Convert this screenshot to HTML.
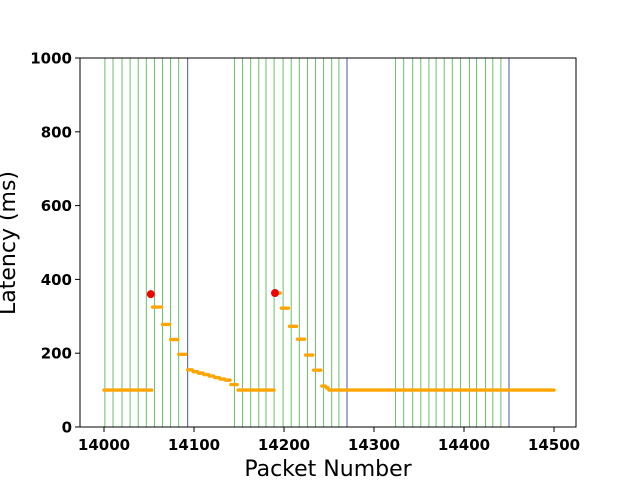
<!DOCTYPE html>
<html><head><meta charset="utf-8"><style>
body{margin:0;background:#fff;}
svg text{font-family:"DejaVu Sans","Liberation Sans",sans-serif;}
</style></head><body>
<svg id="chart" width="640" height="480" xmlns="http://www.w3.org/2000/svg">
<rect width="640" height="480" fill="#fff"/>
<g id="vlines"></g>
<g id="marks"></g>
<rect x="80" y="58" width="496" height="369" fill="none" stroke="#000" stroke-width="1"/>
<g id="axes"></g>
<text x="328" y="476" font-size="22" text-anchor="middle">Packet Number</text>
<text transform="translate(9,243) rotate(-90)" font-size="22" text-anchor="middle" dominant-baseline="middle">Latency (ms)</text>
</svg>
<script>
const xTicks = [14000, 14100, 14200, 14300, 14400, 14500];
const yTicks = [0, 200, 400, 600, 800, 1000];
const greenLines = [14001, 14010, 14020, 14029, 14038, 14047, 14056, 14065, 14074, 14083,
  14145, 14154, 14163, 14172, 14180, 14189, 14199, 14208, 14217, 14226, 14235, 14244, 14253, 14261,
  14324, 14333, 14343, 14352, 14361, 14369, 14378, 14387, 14396, 14406, 14414, 14424, 14432, 14441];
const blueLines = [14093, 14270, 14450];
const segStart = [14000, 14054, 14065, 14074, 14083, 14093, 14099, 14105, 14111, 14117, 14123, 14129, 14135, 14141, 14149, 14190, 14197, 14206, 14215, 14224, 14233, 14242, 14247, 14250];
const segEnd   = [14053, 14064, 14073, 14082, 14091, 14098, 14104, 14110, 14116, 14122, 14128, 14134, 14140, 14148, 14189, 14196, 14205, 14214, 14223, 14232, 14241, 14246, 14249, 14500];
const segValue = [100, 325, 278, 237, 197, 155, 150, 146, 142, 138, 134, 130, 127, 115, 100, 363, 322, 273, 238, 195, 154, 111, 106, 100];
const lossX = [14052, 14190];
const lossY = [360, 363];

const NS = "http://www.w3.org/2000/svg";
const xs = v => 104 + (v - 14000) * 0.9;
const ys = v => 427 - v * 0.369;
function mk(tag, attrs, parent) {
  const e = document.createElementNS(NS, tag);
  for (const k in attrs) e.setAttribute(k, attrs[k]);
  parent.appendChild(e);
  return e;
}
const vl = document.getElementById('vlines');
greenLines.forEach(p => {
  const l = mk('line', {x1: xs(p), x2: xs(p), y1: 58, y2: 427, stroke: '#5cb85c', 'stroke-width': 0.9}, vl);
  
  
});
blueLines.forEach(p => {
  const l = mk('line', {x1: xs(p), x2: xs(p), y1: 58, y2: 427, stroke: '#3344aa', 'stroke-width': 0.9}, vl);
  
  
});
const mg = document.getElementById('marks');
for (let i = 0; i < segStart.length; i++) {
  const l = mk('line', {x1: xs(segStart[i]), x2: xs(segEnd[i]), y1: ys(segValue[i]), y2: ys(segValue[i]), stroke: '#ffa500', 'stroke-width': 3.4, 'stroke-linecap': 'round'}, mg);
  
  
}
for (let i = 0; i < lossX.length; i++) {
  const c = mk('circle', {cx: xs(lossX[i]), cy: ys(lossY[i]), r: 4, fill: '#ee0000'}, mg);
  
  
}
const ax = document.getElementById('axes');
xTicks.forEach(t => {
  mk('line', {x1: xs(t), x2: xs(t), y1: 427, y2: 432, stroke: '#000'}, ax);
  const tx = mk('text', {x: xs(t), y: 450, 'font-size': 15, 'font-weight': 'bold', 'text-anchor': 'middle'}, ax);
  tx.textContent = t;
  
  
});
yTicks.forEach(t => {
  mk('line', {x1: 75, x2: 80, y1: ys(t), y2: ys(t), stroke: '#000'}, ax);
  const tx = mk('text', {x: 72, y: ys(t) + 5.5, 'font-size': 15, 'font-weight': 'bold', 'text-anchor': 'end'}, ax);
  tx.textContent = t;
  
  
});
</script>
</body></html>
